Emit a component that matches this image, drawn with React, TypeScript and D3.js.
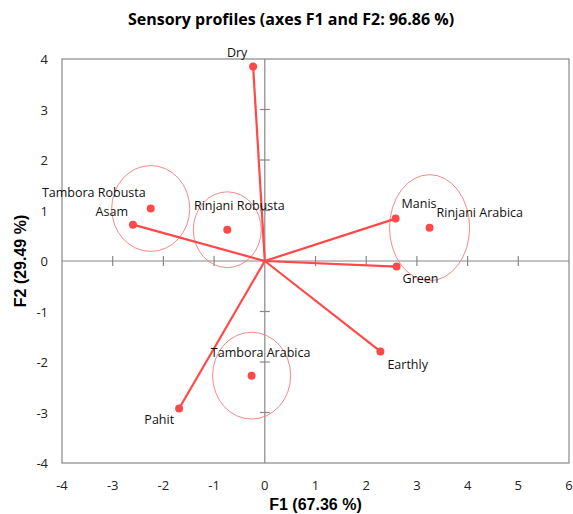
import { useEffect, useRef } from "react";
import * as d3 from "d3";

// variables (loadings) drawn as vectors from the origin
const variables = ["Dry", "Asam", "Manis", "Green", "Earthly", "Pahit"];
const varF1 = [-0.23, -2.6, 2.58, 2.6, 2.28, -1.69];
const varF2 = [3.85, 0.72, 0.84, -0.11, -1.79, -2.92];

// observations with confidence ellipses
const observations = ["Tambora Robusta", "Rinjani Robusta", "Rinjani Arabica", "Tambora Arabica"];
const obsF1 = [-2.25, -0.74, 3.25, -0.26];
const obsF2 = [1.04, 0.62, 0.66, -2.27];
const obsRx = [0.77, 0.67, 0.79, 0.77];
const obsRy = [0.85, 0.75, 1.05, 0.86];

const xTicks = [-4, -3, -2, -1, 0, 1, 2, 3, 4, 5, 6];
const yTicks = [-4, -3, -2, -1, 0, 1, 2, 3, 4];

// label placement (px offsets from the point)
const labelPos: Record<string, [number, number, string]> = {
  "Dry": [-16, -10, "middle"],
  "Asam": [-5, -9, "end"],
  "Manis": [6, -11, "start"],
  "Green": [6, 16, "start"],
  "Earthly": [7, 18, "start"],
  "Pahit": [-5, 16, "end"],
  "Tambora Robusta": [-5, -11, "end"],
  "Rinjani Robusta": [12, -20, "middle"],
  "Rinjani Arabica": [7, -11, "start"],
  "Tambora Arabica": [9, -19, "middle"],
};

const W = 573, H = 514;
const red = "#ff4848";
const grey = "#888888";
const labelFont = "'Open Sans', sans-serif";

export default function App() {
  const ref = useRef<SVGSVGElement | null>(null);

  useEffect(() => {
    const svg = d3.select(ref.current);
    svg.selectAll("*").remove();

    const left = 62, right = 569, top = 59, bottom = 463;
    const x = d3.scaleLinear().domain([-4, 6]).range([left, right]);
    const y = d3.scaleLinear().domain([-4, 4]).range([bottom, top]);

    // frame
    svg.append("rect")
      .attr("x", left).attr("y", top)
      .attr("width", right - left).attr("height", bottom - top)
      .attr("fill", "none").attr("stroke", grey).attr("stroke-width", 1.2);

    // zero axes
    svg.append("line")
      .attr("x1", left).attr("x2", right).attr("y1", y(0)).attr("y2", y(0))
      .attr("stroke", grey).attr("stroke-width", 1.2);
    svg.append("line")
      .attr("x1", x(0)).attr("x2", x(0)).attr("y1", top).attr("y2", bottom)
      .attr("stroke", grey).attr("stroke-width", 1.2);

    // cross ticks on the zero axes
    svg.append("g").selectAll("line")
      .data(xTicks.filter(t => t > -4 && t < 6 && t !== 0))
      .enter().append("line")
      .attr("x1", d => x(d)).attr("x2", d => x(d))
      .attr("y1", y(0) - 5).attr("y2", y(0) + 5)
      .attr("stroke", grey).attr("stroke-width", 1.2);
    svg.append("g").selectAll("line")
      .data(yTicks.filter(t => t > -4 && t < 4 && t !== 0))
      .enter().append("line")
      .attr("y1", d => y(d)).attr("y2", d => y(d))
      .attr("x1", x(0) - 5).attr("x2", x(0) + 5)
      .attr("stroke", grey).attr("stroke-width", 1.2);

    // tick labels
    svg.append("g").selectAll("text")
      .data(xTicks).enter().append("text")
      .attr("x", d => x(d)).attr("y", bottom + 27)
      .attr("text-anchor", "middle")
      .style("font-family", labelFont).style("font-size", "13px").attr("fill", "#222")
      .text(d => String(d));
    svg.append("g").selectAll("text")
      .data(yTicks).enter().append("text")
      .attr("x", left - 14).attr("y", d => y(d) + 5)
      .attr("text-anchor", "end")
      .style("font-family", labelFont).style("font-size", "13px").attr("fill", "#222")
      .text(d => String(d));

    // ellipses
    svg.append("g").selectAll("ellipse")
      .data(observations).enter().append("ellipse")
      .attr("cx", (_, i) => x(obsF1[i])).attr("cy", (_, i) => y(obsF2[i]))
      .attr("rx", (_, i) => x(obsRx[i]) - x(0))
      .attr("ry", (_, i) => y(0) - y(obsRy[i]))
      .attr("fill", "none").attr("stroke", "#f47a7a").attr("stroke-width", 0.9);

    // vectors
    svg.append("g").selectAll("line")
      .data(variables).enter().append("line")
      .attr("x1", x(0)).attr("y1", y(0))
      .attr("x2", (_, i) => x(varF1[i])).attr("y2", (_, i) => y(varF2[i]))
      .attr("stroke", red).attr("stroke-width", 2.2);

    const pts = [
      ...variables.map((n, i) => ({ n, f1: varF1[i], f2: varF2[i] })),
      ...observations.map((n, i) => ({ n, f1: obsF1[i], f2: obsF2[i] })),
    ];

    svg.append("g").selectAll("circle")
      .data(pts).enter().append("circle")
      .attr("cx", d => x(d.f1)).attr("cy", d => y(d.f2)).attr("r", 4)
      .attr("fill", red);

    svg.append("g").selectAll("text")
      .data(pts).enter().append("text")
      .attr("x", d => x(d.f1) + labelPos[d.n][0])
      .attr("y", d => y(d.f2) + labelPos[d.n][1])
      .attr("text-anchor", d => labelPos[d.n][2])
      .style("font-family", labelFont).style("font-size", "12.5px").attr("fill", "#111")
      .text(d => d.n);

    // title and axis titles
    svg.append("text")
      .attr("x", 291).attr("y", 25).attr("text-anchor", "middle")
      .style("font-family", labelFont).style("font-size", "16px").style("font-weight", 700)
      .text("Sensory profiles (axes F1 and F2: 96.86 %)");
    svg.append("text")
      .attr("x", (left + right) / 2).attr("y", 510).attr("text-anchor", "middle")
      .style("font-family", "'Liberation Sans', Arial, sans-serif").style("font-size", "16px").style("font-weight", 700)
      .text("F1 (67.36 %)");
    svg.append("text")
      .attr("transform", `translate(26,${(top + bottom) / 2}) rotate(-90)`)
      .attr("text-anchor", "middle")
      .style("font-family", "'Liberation Sans', Arial, sans-serif").style("font-size", "16px").style("font-weight", 700)
      .text("F2 (29.49 %)");
  }, []);

  return (
    <svg ref={ref} width={W} height={H}
      style={{ position: "absolute", left: 0, top: 0, background: "#fff" }} />
  );
}
